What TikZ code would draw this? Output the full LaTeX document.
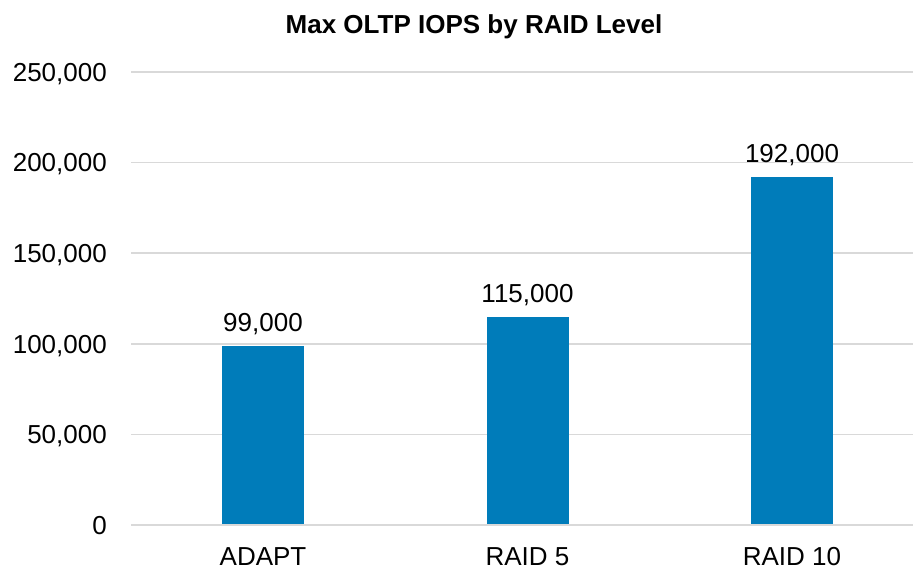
\documentclass[tikz,border=0pt]{standalone}
\usepackage{fontspec}
\setmainfont{Liberation Sans}
\usetikzlibrary{positioning}
\definecolor{raidblue}{RGB}{0,124,186}
\definecolor{gridgray}{RGB}{217,217,217}

\begin{document}
\begin{tikzpicture}[x=1pt, y=1pt,
  gridln/.style={gridgray, line width=1.5pt},
  bar/.style={fill=raidblue, draw=none},
  lbl/.style={font=\fontsize{26}{30}\selectfont, inner sep=0pt}]
\useasboundingbox (0,-46) rectangle (913,525);
%\draw[help lines, step=50] (0,-46) grid (913,525);

% gridlines and axis values
\foreach \v/\t in {0/0, 50/{50,000}, 100/{100,000}, 150/{150,000}, 200/{200,000}, 250/{250,000}} {
  \draw[gridln] (131,\v*1.8125) -- (913,\v*1.8125);
  \node[lbl, anchor=base east] (y\v) at (107,\v*1.8125-9.3) {\t};
}

% bars
\foreach \x/\h/\cat/\val [count=\i] in {263/99/ADAPT/{99,000}, 527.5/115/RAID 5/{115,000}, 792/192/RAID 10/{192,000}} {
  \fill[bar] (\x-41,0.75) rectangle (\x+41,\h*1.8125);
  \node[lbl, anchor=base] (val\i) at (\x,\h*1.8125+14.5) {\val};
  \node[lbl, anchor=base] (cat\i) at (\x,-40.6) {\cat};
}

\node[lbl, font=\fontsize{26}{30}\selectfont\bfseries, anchor=base] (title) at (474,491) {Max OLTP IOPS by RAID Level};

\end{tikzpicture}
\end{document}
